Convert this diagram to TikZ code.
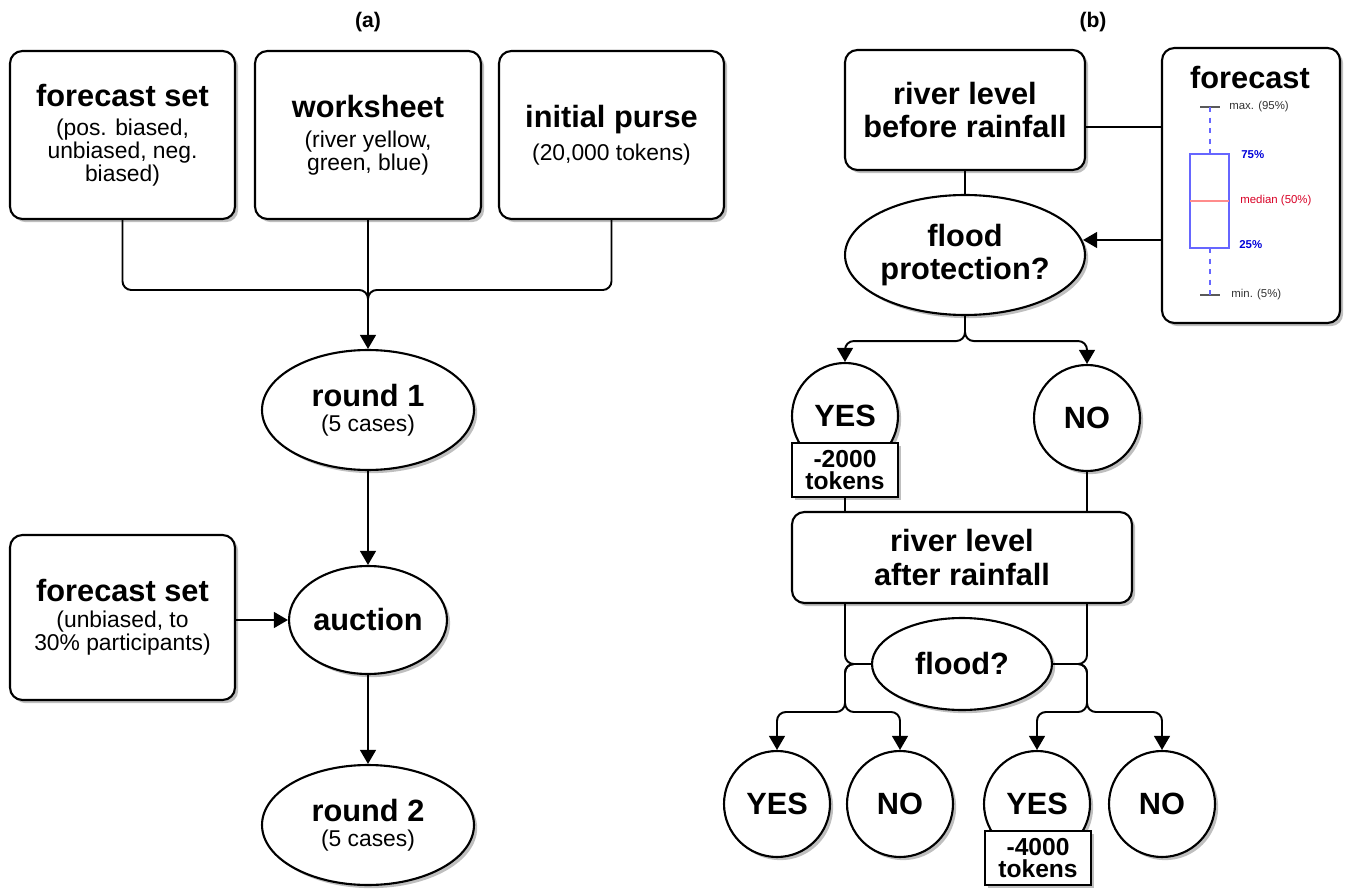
\documentclass[tikz,border=0pt]{standalone}
\usepackage{fontspec}
\setmainfont{Liberation Sans}
\usetikzlibrary{shapes.geometric, arrows.meta, shadows}

\newcommand{\headfont}{\fontsize{17.5}{19}\selectfont\bfseries}
\newcommand{\notefont}{\fontsize{13}{13.5}\selectfont\mdseries}
\newcommand{\tagfont}{\fontsize{14}{13}\selectfont\bfseries}
\newcommand{\plotfont}{\fontsize{6.5}{7}\selectfont}

\tikzset{
  castshadow/.style={drop shadow={shadow xshift=1.8pt, shadow yshift=-1.8pt, fill=black, opacity=0.25}},
  card/.style={draw, rectangle, rounded corners=7pt, fill=white, line width=1.2pt, align=center, inner sep=0pt, castshadow},
  oval/.style={draw, ellipse, fill=white, line width=1.2pt, align=center, inner sep=0pt, castshadow},
  disc/.style={draw, circle, fill=white, line width=1.2pt, inner sep=0pt, minimum size=2.12cm, castshadow, font=\headfont},
  tag/.style={draw, rectangle, fill=white, line width=1.2pt, align=center, inner sep=0pt, minimum width=2.12cm, minimum height=1.07cm, castshadow, font=\tagfont},
  link/.style={line width=1.1pt, rounded corners=5pt},
  arr/.style={link, -{Triangle[width=9pt,length=8pt]}},
  plotlabel/.style={anchor=west, inner sep=0pt, font=\plotfont},
}

\begin{document}
\begin{tikzpicture}[x=0.02cm, y=-0.02cm]
    \useasboundingbox (0,0) rectangle (1351,891);

    % panel (a)
    \node[font=\fontsize{12}{14}\selectfont\bfseries] (lbla) at (368,22) {(a)};

    \node[card, minimum width=4.5cm, minimum height=3.36cm] (fsa) at (122.5,135)
        {\headfont forecast set\\[4.5pt]\notefont (pos. biased,\\\notefont unbiased, neg.\\\notefont biased)};
    \node[card, minimum width=4.52cm, minimum height=3.36cm] (ws) at (368,135)
        {\headfont worksheet\\[5pt]\notefont (river yellow,\\\notefont green, blue)};
    \node[card, minimum width=4.5cm, minimum height=3.36cm] (ip) at (611.5,135)
        {\headfont initial purse\\[4.5pt]\notefont (20,000 tokens)};

    \node[oval, minimum width=4.24cm, minimum height=2.4cm] (r1) at (368,410)
        {\headfont round 1\\[2pt]\notefont (5 cases)};
    \node[oval, minimum width=3.16cm, minimum height=2.16cm, font=\headfont] (au) at (368,620) {auction};
    \node[oval, minimum width=4.24cm, minimum height=2.4cm] (r2) at (368,825)
        {\headfont round 2\\[2pt]\notefont (5 cases)};

    \node[card, minimum width=4.5cm, minimum height=3.3cm] (fsb) at (122.5,617.5)
        {\headfont forecast set\\[3pt]\notefont (unbiased, to\\\notefont 30\% participants)};

    \coordinate (join) at (368,290);
    \draw[link] (fsa.south) |- (join) -- ++(0,12);
    \draw[link] (ip.south) |- (join) -- ++(0,12);
    \draw[arr] (ws.south) -- (r1.north);
    \draw[arr] (r1.south) -- (au.north);
    \draw[arr] (au.south) -- (r2.north);
    \draw[arr] (fsb.east |- au.west) -- (au.west);

    % panel (b)
    \node[font=\fontsize{12}{14}\selectfont\bfseries] (lblb) at (1093,22) {(b)};

    \node[card, minimum width=4.8cm, minimum height=2.4cm, font=\headfont] (rb) at (965,110)
        {river level\\before rainfall};
    \node[card, minimum width=3.56cm, minimum height=5.5cm] (fc) at (1251,185.5) {};
    \node[oval, minimum width=4.8cm, minimum height=2.4cm, font=\headfont] (fp) at (965,255)
        {flood\\protection?};

    % box plot inside the forecast card
    \node[font=\headfont, inner sep=0pt] (fctitle) at (1250,78) {forecast};
    \draw[gray!70!black, line width=0.8pt] (1200,107) -- (1220,107) (1200,295) -- (1220,295);
    \draw[blue!60, dashed, line width=0.6pt] (1210,107) -- (1210,154) (1210,248) -- (1210,295);
    \draw[blue!60, line width=0.7pt] (1190,154) rectangle (1229,248);
    \draw[red!45, line width=0.7pt] (1190,201) -- (1229,201);
    \node[plotlabel, text=black!80] (pmax) at (1229,107) {max. (95\%)};
    \node[plotlabel, text=blue!85!black, font=\plotfont\bfseries] (p75) at (1241,155) {75\%};
    \node[plotlabel, text=red!85!blue] (pmed) at (1240,201) {median (50\%)};
    \node[plotlabel, text=blue!85!black, font=\plotfont\bfseries] (p25) at (1239,245) {25\%};
    \node[plotlabel, text=black!80] (pmin) at (1231,295) {min. (5\%)};

    \coordinate (hook) at (0,127);
    \coordinate (feed) at (0,240);
    \draw[link] (rb.east |- hook) -- (fc.west |- hook);
    \draw[link] (rb.south) -- (fp.north);
    \draw[arr] (fc.west |- feed) -- (1083,240);

    \node[disc] (y1) at (845,416) {YES};
    \node[tag] (t1) at (845,470) {-2000\\tokens};
    \node[disc] (n1) at (1087,418) {NO};
    \draw[arr] (fp.south) -- ++(0,25) -| (y1.north);
    \draw[arr] (fp.south) -- ++(0,25) -| (n1.north);

    \node[card, minimum width=6.8cm, minimum height=1.82cm, font=\headfont] (ra) at (962,557.5)
        {river level\\after rainfall};
    \node[oval, minimum width=3.6cm, minimum height=1.84cm, font=\headfont] (fl) at (962,664) {flood?};
    \draw[link] (t1.south) -- (t1.south |- ra.north);
    \draw[link] (n1.south) -- (n1.south |- ra.north);
    \draw[link] (t1.south |- ra.south) |- (fl.west);
    \draw[link] (n1.south |- ra.south) |- (fl.east);

    \node[disc] (y2) at (777,804) {YES};
    \node[disc] (n2) at (900,804) {NO};
    \node[disc] (y3) at (1037,804) {YES};
    \node[disc] (n3) at (1162,804) {NO};
    \node[tag] (t3) at (1038,858) {-4000\\tokens};

    \coordinate (splitl) at (845,712);
    \coordinate (splitr) at (1087,712);
    \draw[arr] (fl.west) -| (splitl) -| (y2.north);
    \draw[arr] (fl.west) -| (splitl) -| (n2.north);
    \draw[arr] (fl.east) -| (splitr) -| (y3.north);
    \draw[arr] (fl.east) -| (splitr) -| (n3.north);
\end{tikzpicture}
\end{document}
